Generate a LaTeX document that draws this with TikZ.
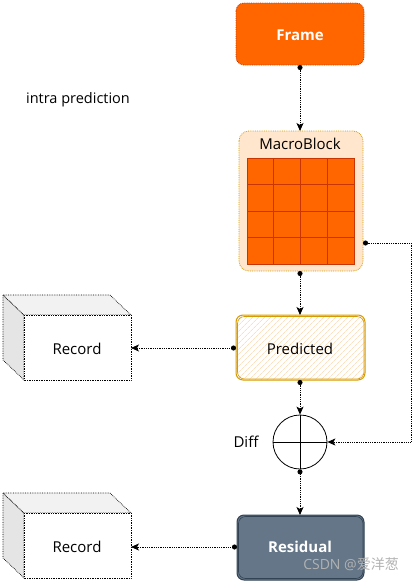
\documentclass[tikz,border=0pt]{standalone}
\usepackage{fontspec}
\setmainfont{Open Sans}
\newfontfamily\cjkfont{Noto Sans CJK SC}
\usetikzlibrary{arrows.meta,patterns.meta,calc}
\definecolor{frameor}{HTML}{FF6600}
\definecolor{framebd}{HTML}{C73500}
\definecolor{mbfill}{HTML}{FFE6CC}
\definecolor{mbbd}{HTML}{D79B00}
\definecolor{resfill}{HTML}{647687}
\definecolor{resbd}{HTML}{314354}
\tikzset{
  x=1pt,y=-1pt,
  lbl/.style={font=\fontsize{15}{18}\selectfont},
  blbl/.style={text=white,font=\bfseries\fontsize{15}{18}\selectfont},
  conn/.style={densely dotted,line width=0.8pt,{Circle[length=5pt]}-{Stealth[length=8pt,width=7pt,inset=2pt]}},
  framebox/.style={rounded corners=8pt,fill=frameor,draw=framebd,densely dotted,line width=0.8pt},
  gridcell/.style={fill=frameor,draw=framebd,line width=0.9pt},
  cubeline/.style={densely dotted,line width=0.7pt},
}
\begin{document}
\begin{tikzpicture}
\useasboundingbox (0,0) rectangle (417,584);
% Frame
\draw[framebox] (236,3) rectangle (364,65);
\node[blbl] (frame) at (300,35) {Frame};
\coordinate (frameS) at (300,65);
% MacroBlock
\draw[rounded corners=10pt,fill=mbfill,draw=mbbd,densely dotted,line width=0.8pt] (239,131) rectangle (363,271);
\coordinate (mbN) at (300,131);
\coordinate (mbS) at (300,271);
\coordinate (mbE) at (363,243);
\node[lbl] (mblabel) at (300,144) {MacroBlock};
\foreach \i in {0,1,2,3}{
  \foreach \j in {0,1,2,3}{
    \draw[gridcell] ({247+26.75*\i},{158+26.5*\j}) rectangle ++(26.75,26.5);
  }
}
% Predicted
\fill[white,rounded corners=7pt] (236,315) rectangle (365,380);
\fill[pattern={Lines[angle=45,distance=4pt,line width=0.7pt]},pattern color=mbfill!70!orange!60,rounded corners=7pt] (236,315) rectangle (365,380);
\draw[mbbd,line width=1pt,rounded corners=7pt] (236,315) rectangle (365,380);
\draw[mbbd,line width=0.6pt,rounded corners=7pt] (237.5,316.5) rectangle (364,379);
\node[lbl] (pred) at (300,349) {Predicted};
\coordinate (predN) at (300,315);
\coordinate (predS) at (300,380);
\coordinate (predW) at (236,348);
% Record 1
\draw[cubeline,fill=gray!20] (3,295) -- (24,315) -- (24,380) -- (3,360) -- cycle;
\draw[cubeline,fill=gray!10] (3,295) -- (110,295) -- (131,315) -- (24,315) -- cycle;
\draw[cubeline,fill=white] (24,315) rectangle (131,380);
\node[lbl] (rec1) at (77,349) {Record};
\coordinate (rec1E) at (131,348);
% Diff circle
\node[circle,draw,line width=0.8pt,minimum size=54pt,inner sep=0pt] (diff) at (300,442) {};
\draw[line width=0.8pt] (diff.north) -- (diff.south) (diff.west) -- (diff.east);
\node[lbl] (difflabel) at (246,442) {Diff};
% Residual
\draw[resbd,fill=resfill,line width=1pt,rounded corners=7pt] (237,515) rectangle (364,580);
\draw[resbd,line width=0.6pt,rounded corners=7pt] (238.5,516.5) rectangle (363,578.5);
\node[blbl] (res) at (300,547) {Residual};
\coordinate (resN) at (300,515);
\coordinate (resW) at (237,547);
% Record 2
\draw[cubeline,fill=gray!20] (3,493) -- (24,513) -- (24,578) -- (3,558) -- cycle;
\draw[cubeline,fill=gray!10] (3,493) -- (110,493) -- (131,513) -- (24,513) -- cycle;
\draw[cubeline,fill=white] (24,513) rectangle (131,578);
\node[lbl] (rec2) at (77,547) {Record};
\coordinate (rec2E) at (131,547);
% text
\node[font=\fontsize{14.5}{17}\selectfont] (intra) at (78,100) {intra prediction};
\node[text=gray!60,font=\fontsize{14}{16}\selectfont] (wm) at (351,564) {CSDN @\cjkfont 爱洋葱};
% connectors
\draw[conn] (frameS) -- (mbN);
\draw[conn] (mbS) -- (predN);
\draw[conn] (predW) -- (rec1E);
\draw[conn] (predS) -- (diff.north);
\draw[conn] (diff.south) -- (resN);
\draw[conn] (resW) -- (rec2E);
\draw[conn] (mbE) -- (411,243) -- (411,442) -- (diff.east);
\end{tikzpicture}
\end{document}
